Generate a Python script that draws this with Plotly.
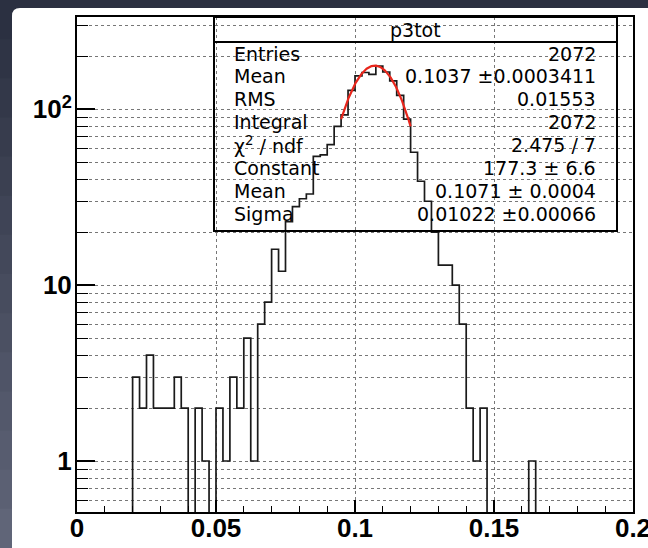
import numpy as np
import plotly.graph_objects as go

# ---------------- data ----------------
X_MIN, X_MAX, N_BINS = 0.0, 0.2, 80

# bin contents of p3tot (80 bins of width 0.0025 between 0 and 0.2)
counts = (
    [0] * 8
    + [3, 2, 4, 2, 2, 2, 3, 2, 0, 2, 1, 0, 2, 1, 3, 2, 5, 1]
    + [6, 8, 16, 12, 23, 28, 31, 33]
    + [54, 55, 63, 80, 93, 128, 155, 162]
    + [158, 176, 163, 145, 120, 88, 57, 39]
    + [30, 20, 13, 13, 10, 6, 2, 1, 2]
    + [0, 0, 0, 0, 0, 0]
    + [1]
    + [0] * 14
)

# gaussian fit result
fit_constant = 177.3
fit_mean = 0.1071
fit_sigma = 0.01022
fit_range = [0.095, 0.12]

hist_title = "p3tot"
stat_names = ["Entries", "Mean", "RMS", "Integral", "χ<sup>2</sup> / ndf",
              "Constant", "Mean", "Sigma"]
stat_values = ["2072", "0.1037 ±0.0003411", "0.01553", "2072", "2.475 / 7",
               "177.3 ± 6.6", "0.1071 ± 0.0004", "0.01022 ±0.00066"]

x_tick_vals = [0, 0.05, 0.1, 0.15, 0.2]
x_tick_text = ["0", "0.05", "0.1", "0.15", "0.2"]
y_tick_vals = [1, 10, 100]
y_tick_text = ["1", "10", "10<sup>2</sup>"]
y_minor_vals = [0.6, 0.7, 0.8, 0.9, 2, 3, 4, 5, 6, 7, 8, 9,
                20, 30, 40, 50, 60, 70, 80, 90, 200, 300]

# ---------------- geometry ----------------
W, H = 648, 548
ML, MR, MT, MB = 77, 15, 17, 36
PW, PH = W - ML - MR, H - MT - MB


def px_x(px):
    return (px - ML) / PW


def px_y(py):
    return (H - MB - py) / PH


# empty bins sit below the visible log range
LOG_FLOOR = 1e-3
edges = np.linspace(X_MIN, X_MAX, N_BINS + 1)
step_y = [c if c > 0 else LOG_FLOOR for c in counts]
step_y = step_y + [step_y[-1]]

fx = np.linspace(fit_range[0], fit_range[1], 200)
fy = fit_constant * np.exp(-0.5 * ((fx - fit_mean) / fit_sigma) ** 2)

fig = go.Figure()
fig.add_trace(go.Scatter(
    x=edges, y=step_y, mode="lines", line_shape="hv",
    line=dict(color="#1a1a1a", width=1.7), hoverinfo="skip", showlegend=False,
))
fig.add_trace(go.Scatter(
    x=fx, y=fy, mode="lines",
    line=dict(color="#e8261c", width=2.2), hoverinfo="skip", showlegend=False,
))

label_font = dict(family="Liberation Sans", size=26, color="black", weight="bold")
grid_common = dict(gridcolor="#777777", gridwidth=1, griddash="dot")

fig.update_xaxes(
    range=[X_MIN, X_MAX], tickmode="array", tickvals=x_tick_vals, ticktext=x_tick_text,
    ticks="inside", ticklen=12, tickwidth=1.5, tickcolor="black",
    showline=True, linecolor="black", linewidth=2, mirror=True,
    showgrid=True, zeroline=False, tickfont=label_font, ticklabelstandoff=-8,
    automargin=False, ticklabeloverflow="allow",
    minor=dict(tickmode="linear", tick0=0, dtick=0.01, ticks="inside", ticklen=6,
               tickwidth=1, tickcolor="black", showgrid=False),
    **grid_common,
)
fig.update_yaxes(
    type="log", range=[-0.29, 2.525], tickmode="array",
    tickvals=y_tick_vals, ticktext=y_tick_text,
    ticks="inside", ticklen=18, tickwidth=1.5, tickcolor="black",
    showline=True, linecolor="black", linewidth=2, mirror=True,
    showgrid=True, zeroline=False, tickfont=label_font, ticklabelstandoff=-2,
    automargin=False, ticklabeloverflow="allow",
    minor=dict(tickmode="array", tickvals=y_minor_vals, ticks="inside", ticklen=11,
               tickwidth=1, tickcolor="black", showgrid=True,
               gridcolor="#777777", gridwidth=1, griddash="dot"),
    **grid_common,
)

shapes = []
# backdrop gradient
n_bands = 14
c0 = np.array([0x2b, 0x30, 0x41])
c1 = np.array([0x60, 0x65, 0x78])
for i in range(n_bands):
    c = (c0 + (c1 - c0) * i / (n_bands - 1)).astype(int)
    shapes.append(dict(
        type="rect", xref="paper", yref="paper", layer="below",
        x0=px_x(0), x1=px_x(W), y0=px_y(H * (i + 1) / n_bands + 1), y1=px_y(H * i / n_bands),
        fillcolor="rgb(%d,%d,%d)" % tuple(c), line=dict(width=0),
    ))
# white canvas with rounded top-left corner
x0, x1 = px_x(12), px_x(W + 2)
y0, y1 = px_y(H + 2), px_y(8)
rx, ry = 8 / PW, 8 / PH
shapes.append(dict(
    type="path", xref="paper", yref="paper", layer="below",
    path=(f"M {x0 + rx},{y1} L {x1},{y1} L {x1},{y0} L {x0},{y0} "
          f"L {x0},{y1 - ry} Q {x0},{y1} {x0 + rx},{y1} Z"),
    fillcolor="white", line=dict(width=0),
))

# statistics box
BOX_L, BOX_R, BOX_T, BOX_B, BOX_SEP = 214, 617, 17, 231, 42
shapes.append(dict(
    type="rect", xref="paper", yref="paper", layer="above",
    x0=px_x(BOX_L), x1=px_x(BOX_R), y0=px_y(BOX_B), y1=px_y(BOX_T),
    line=dict(color="black", width=2), fillcolor="rgba(0,0,0,0)",
))
shapes.append(dict(
    type="line", xref="paper", yref="paper", layer="above",
    x0=px_x(BOX_L), x1=px_x(BOX_R), y0=px_y(BOX_SEP), y1=px_y(BOX_SEP),
    line=dict(color="black", width=2),
))

stat_font = dict(family="DejaVu Sans", size=19, color="black")
annotations = [dict(
    text=hist_title, xref="paper", yref="paper", x=px_x((BOX_L + BOX_R) / 2),
    y=px_y(30), xanchor="center", yanchor="middle", showarrow=False, font=stat_font,
)]
for i, (name, val) in enumerate(zip(stat_names, stat_values)):
    yy = px_y(53.5 + 22.9 * i)
    annotations.append(dict(
        text=name, xref="paper", yref="paper", x=px_x(232), y=yy,
        xanchor="left", yanchor="middle", showarrow=False, font=stat_font,
    ))
    annotations.append(dict(
        text=val, xref="paper", yref="paper", x=px_x(598), y=yy,
        xanchor="right", yanchor="middle", showarrow=False, font=stat_font,
    ))

fig.update_layout(
    width=W, height=H, margin=dict(l=ML, r=MR, t=MT, b=MB, pad=0),
    paper_bgcolor="#3a3f52", plot_bgcolor="rgba(0,0,0,0)",
    shapes=shapes, annotations=annotations, showlegend=False,
)

fig.write_html("out.html")
